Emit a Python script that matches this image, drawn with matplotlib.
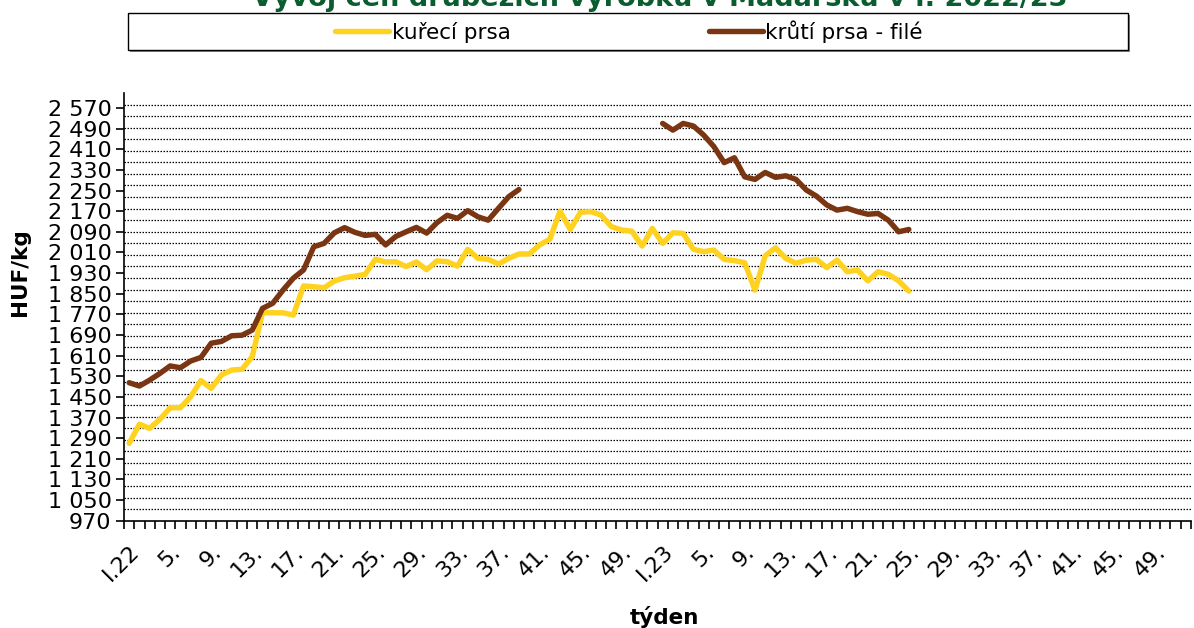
import matplotlib
matplotlib.use("Agg")
import matplotlib.pyplot as plt
from matplotlib.patches import Rectangle
import numpy as np

# weekly prices, HUF/kg (index 0 = week 1/2022, index 52 = week 1/2023)
kureci = [1270, 1344, 1328, 1363, 1408, 1408, 1451, 1513, 1483, 1535,
          1554, 1557, 1606, 1776, 1776, 1776, 1767, 1880, 1877, 1873,
          1899, 1912, 1918, 1925, 1983, 1973, 1974, 1955, 1973, 1943,
          1977, 1974, 1957, 2022, 1987, 1983, 1965, 1987, 2004, 2004,
          2039, 2061, 2170, 2099, 2166, 2168, 2155, 2110, 2097, 2092,
          2035, 2103, 2045, 2086, 2084, 2022, 2013, 2019, 1983, 1978,
          1970, 1864, 1997, 2028, 1987, 1968, 1980, 1983, 1951, 1980,
          1935, 1942, 1900, 1935, 1925, 1900, 1860]
kruti_2022 = [1505, 1492, 1515, 1541, 1570, 1563, 1589, 1603, 1658, 1665,
              1687, 1689, 1709, 1793, 1813, 1864, 1910, 1942, 2032, 2045,
              2086, 2106, 2088, 2076, 2080, 2039, 2072, 2090, 2107, 2085,
              2125, 2154, 2142, 2172, 2148, 2135, 2181, 2226, 2254]
kruti_2023 = [2510, 2484, 2510, 2500, 2465, 2420, 2358, 2377, 2303, 2293,
              2320, 2301, 2307, 2293, 2252, 2228, 2194, 2174, 2181, 2168,
              2158, 2161, 2135, 2090, 2099]

week_labels = ["I.22", "5.", "9.", "13.", "17.", "21.", "25.", "29.", "33.",
               "37.", "41.", "45.", "49.",
               "I.23", "5.", "9.", "13.", "17.", "21.", "25.", "29.", "33.",
               "37.", "41.", "45.", "49."]
n_weeks = 104

yticks = list(range(970, 2571, 80))

yellow = "#FFD21F"
brown = "#7A3512"

# series on the category axis, gap for missing turkey weeks
x_k = np.arange(len(kureci))
kruti = kruti_2022 + [np.nan] * (52 - len(kruti_2022)) + kruti_2023
x_t = np.arange(len(kruti))

fig = plt.figure(figsize=(11.94, 6.28), dpi=100)
ax = fig.add_axes([124 / 1194, 1 - 520.7 / 628, 1067 / 1194, (520.7 - 93) / 628])

ax.set_ylim(970, 2628)
ax.set_xlim(-0.5, n_weeks - 0.5)

# dotted gridlines
for g in np.linspace(970, 2628, 38)[1:-1]:
    ax.axhline(g, color="black", lw=0.9, ls=(0, (1.2, 1.2)), zorder=1)

ax.plot(x_k, kureci, color=yellow, lw=3.9, solid_joinstyle="round",
        solid_capstyle="round", zorder=3, label="kuřecí prsa")
ax.plot(x_t, kruti, color=brown, lw=3.9, solid_joinstyle="round",
        solid_capstyle="round", zorder=3, label="krůtí prsa - filé")

for s in ["top", "right"]:
    ax.spines[s].set_visible(False)
ax.spines["left"].set_linewidth(1.2)
ax.spines["bottom"].set_linewidth(1.2)

ax.set_yticks(yticks)
ax.set_yticklabels([f"{v:,}".replace(",", " ") for v in yticks], fontsize=16)
ax.tick_params(axis="y", length=6, width=1.2, pad=3)

ax.set_xticks(np.arange(0, n_weeks, 4))
ax.set_xticklabels(week_labels, fontsize=16, rotation=45, ha="right",
                   va="top", rotation_mode="anchor")
ax.tick_params(axis="x", which="major", length=0, pad=15)
ax.set_xticks(np.arange(-0.5, n_weeks, 1), minor=True)
ax.tick_params(axis="x", which="minor", length=6, width=1.2, direction="out")

fig.text(20 / 1194, 1 - 272 / 628, "HUF/kg", rotation=90, fontsize=15.5,
         fontweight="bold", ha="center", va="center")
fig.text(664 / 1194, 1 - 617 / 628, "týden", fontsize=15.5,
         fontweight="bold", ha="center", va="center")

fig.text(660 / 1194, 1 - 6.5 / 628, "Vývoj cen drůbežích výrobků v Maďarsku v r. 2022/23",
         fontsize=19.5, fontweight="bold", color="#0B5C2E", ha="center", va="baseline")

# legend box
fig.patches.append(Rectangle((130 / 1194, 1 - 52 / 628), 1000 / 1194, 37 / 628,
                             transform=fig.transFigure, facecolor="#888888",
                             edgecolor="none", zorder=0))
fig.patches.append(Rectangle((128 / 1194, 1 - 50 / 628), 1000 / 1194, 37 / 628,
                             transform=fig.transFigure, facecolor="white",
                             edgecolor="black", lw=1, zorder=1))
fig.legend(loc="center", bbox_to_anchor=(629 / 1194, 1 - 31.5 / 628), ncol=2,
           frameon=False, fontsize=15.5, handlelength=2.5, handletextpad=0.12,
           columnspacing=9.2)

fig.savefig("out.png", dpi=100)
